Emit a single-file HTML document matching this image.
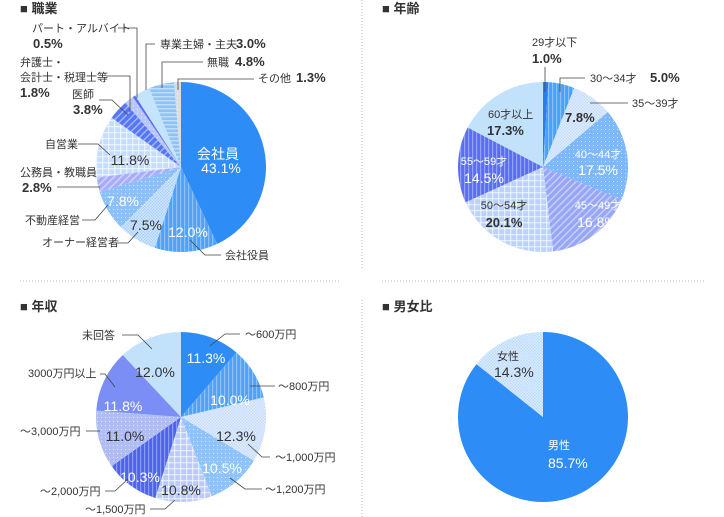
<!DOCTYPE html>
<html><head><meta charset="utf-8"><style>
html,body{margin:0;padding:0;background:#fff;}
svg{display:block;font-family:"Liberation Sans","Noto Sans CJK JP",sans-serif;}
.t{font-size:11px;fill:#333;}
.p{font-size:14px;fill:#333;}
.b{font-weight:bold;font-size:13px;}
.w{fill:#fff;}
.ttl{font-size:13px;font-weight:bold;fill:#333;}
.ld{stroke:#444;stroke-width:0.8;fill:none;}
</style></head><body>
<svg id="svg" width="724" height="517" viewBox="0 0 724 517">
<defs>
<pattern id="pv" width="4" height="4" patternUnits="userSpaceOnUse"><rect width="4" height="4" fill="none"/><rect x="0" width="1.2" height="4" fill="#fff" fill-opacity="0.35"/></pattern>
<pattern id="ph" width="4" height="4" patternUnits="userSpaceOnUse"><rect y="0" width="4" height="1.5" fill="#fff" fill-opacity="0.45"/></pattern>
<pattern id="pd" width="4" height="4" patternUnits="userSpaceOnUse"><rect x="1" y="1" width="1" height="1" fill="#fff" fill-opacity="0.6"/></pattern>
<pattern id="pg" width="6" height="6" patternUnits="userSpaceOnUse"><rect width="6" height="1.3" fill="#fff" fill-opacity="0.6"/><rect width="1.3" height="6" fill="#fff" fill-opacity="0.6"/></pattern>
<pattern id="pdi" width="5" height="5" patternUnits="userSpaceOnUse" patternTransform="rotate(45)"><rect width="1.5" height="5" fill="#fff" fill-opacity="0.45"/></pattern>
<pattern id="pc" width="3" height="3" patternUnits="userSpaceOnUse"><rect width="1.5" height="1.5" fill="#fff" fill-opacity="0.5"/><rect x="1.5" y="1.5" width="1.5" height="1.5" fill="#fff" fill-opacity="0.5"/></pattern>
</defs>
<g stroke="#bbb" stroke-dasharray="1,2" stroke-width="1">
<line x1="362" y1="0" x2="362" y2="270"/><line x1="362" y1="300" x2="362" y2="517"/>
<line x1="20" y1="281" x2="340" y2="281"/><line x1="382" y1="281" x2="705" y2="281"/>
</g>
<g>
<text class="ttl" x="20" y="13">■ 職業</text>
<text class="ttl" x="382" y="13">■ 年齢</text>
<text class="ttl" x="20" y="311">■ 年収</text>
<text class="ttl" x="382" y="311">■ 男女比</text>
</g>
<g id="pies"></g>
<g>
<!-- chart1 -->
<text class="t" x="32" y="32">パート・アルバイト</text><text class="p b" x="33" y="48">0.5%</text>
<polyline class="ld" points="118,28 137,28 137,98"/>
<text class="t" x="160" y="48">専業主婦・主夫</text><text class="p b" x="236" y="48">3.0%</text>
<polyline class="ld" points="155,44 146,44 146,90"/>
<text class="t" x="207" y="66">無職</text><text class="p b" x="235" y="66">4.8%</text>
<polyline class="ld" points="203,62 162,62 162,88"/>
<text class="t" x="258" y="82">その他</text><text class="p b" x="296" y="82">1.3%</text>
<polyline class="ld" points="254,79 178,79 178,90"/>
<text class="t" x="20" y="66">弁護士・</text><text class="t" x="20" y="81">会計士・税理士等</text><text class="p b" x="20" y="97">1.8%</text>
<polyline class="ld" points="106,76 130,76 130,112"/>
<text class="t" x="72" y="98">医師</text><text class="p b" x="73" y="114">3.8%</text>
<polyline class="ld" points="99,100 112,100 128,115"/>
<text class="t" x="45" y="148">自営業</text>
<polyline class="ld" points="78,144 98,144 110,155"/>
<text class="t" x="20" y="176">公務員・教職員</text><text class="p b" x="22" y="192">2.8%</text>
<polyline class="ld" points="57,187 100,187"/>
<text class="t" x="25" y="224">不動産経営</text>
<polyline class="ld" points="82,220 95,220 108,205"/>
<text class="t" x="42" y="246">オーナー経営者</text>
<polyline class="ld" points="117,243 128,243 138,232"/>
<text class="t" x="225" y="259">会社役員</text>
<polyline class="ld" points="221,255 205,255 190,240"/>
<text class="p w" x="218" y="159" text-anchor="middle">会社員</text>
<text class="p w" x="221" y="173" text-anchor="middle">43.1%</text>
<text class="p w" x="188" y="237" text-anchor="middle">12.0%</text>
<text class="p" x="146" y="230" text-anchor="middle">7.5%</text>
<text class="p w" x="123" y="206" text-anchor="middle">7.8%</text>
<text class="p" x="130" y="165" text-anchor="middle">11.8%</text>
<!-- chart2 -->
<text class="t" x="532" y="46">29才以下</text><text class="p b" x="532" y="63">1.0%</text>
<line class="ld" x1="545" y1="67" x2="545" y2="92"/>
<text class="t" x="590" y="82">30〜34才</text><text class="p b" x="650" y="82">5.0%</text>
<polyline class="ld" points="585,78 560,78 560,92"/>
<text class="t" x="632" y="107">35〜39才</text>
<polyline class="ld" points="628,103 590,103"/>
<text class="p b" x="565" y="122">7.8%</text>
<text class="t w" x="598" y="158" text-anchor="middle">40〜44才</text><text class="p w" x="598" y="175" text-anchor="middle">17.5%</text>
<text class="t w" x="598" y="209" text-anchor="middle">45〜49才</text><text class="p w" x="597" y="227" text-anchor="middle">16.8%</text>
<text class="t" x="504" y="209" text-anchor="middle">50〜54才</text><text class="p b" x="504" y="227" text-anchor="middle">20.1%</text>
<text class="t w" x="484" y="165" text-anchor="middle">55〜59才</text><text class="p w" x="484" y="183" text-anchor="middle">14.5%</text>
<text class="t" x="488" y="118">60才以上</text><text class="p b" x="487" y="135">17.3%</text>
<!-- chart3 -->
<text class="p w" x="206" y="363" text-anchor="middle">11.3%</text>
<text class="p w" x="230" y="405" text-anchor="middle">10.0%</text>
<text class="p" x="236" y="441" text-anchor="middle">12.3%</text>
<text class="p w" x="222" y="473" text-anchor="middle">10.5%</text>
<text class="p" x="181" y="495" text-anchor="middle">10.8%</text>
<text class="p w" x="140" y="482" text-anchor="middle">10.3%</text>
<text class="p" x="125" y="441" text-anchor="middle">11.0%</text>
<text class="p w" x="123" y="411" text-anchor="middle">11.8%</text>
<text class="p" x="155" y="377" text-anchor="middle">12.0%</text>
<text class="t" x="245" y="338">〜600万円</text><polyline class="ld" points="240,334 225,334 210,346"/>
<text class="t" x="278" y="390">〜800万円</text><polyline class="ld" points="275,386 250,386"/>
<text class="t" x="275" y="461">〜1,000万円</text><polyline class="ld" points="270,457 262,457 248,444"/>
<text class="t" x="265" y="493">〜1,200万円</text><polyline class="ld" points="262,489 245,489 230,478"/>
<text class="t" x="85" y="513">〜1,500万円</text><polyline class="ld" points="150,509 165,509 175,500"/>
<text class="t" x="40" y="495">〜2,000万円</text><polyline class="ld" points="105,491 115,491 128,479"/>
<text class="t" x="20" y="435">〜3,000万円</text><polyline class="ld" points="86,431 100,431"/>
<text class="t" x="28" y="377">3000万円以上</text><polyline class="ld" points="100,374 105,374 115,387"/>
<text class="t" x="82" y="339">未回答</text><polyline class="ld" points="122,335 138,335 152,349"/>
<!-- chart4 -->
<text class="t" x="497" y="360">女性</text><text class="p" x="494" y="377">14.3%</text>
<text class="t w" x="548" y="449">男性</text><text class="p w" x="548" y="468">85.7%</text>
</g>
</svg>
<script>
const occLabels=["会社員","会社役員","オーナー経営者","不動産経営","公務員・教職員","自営業","医師","弁護士・会計士・税理士等","パート・アルバイト","専業主婦・主夫","無職","その他"];
const occValues=[43.1,12.0,7.5,7.8,2.8,11.8,3.8,1.8,0.5,3.0,4.8,1.3];
const ageLabels=["29才以下","30〜34才","35〜39才","40〜44才","45〜49才","50〜54才","55〜59才","60才以上"];
const ageValues=[1.0,5.0,7.8,17.5,16.8,20.1,14.5,17.3];
const incLabels=["〜600万円","〜800万円","〜1,000万円","〜1,200万円","〜1,500万円","〜2,000万円","〜3,000万円","3000万円以上","未回答"];
const incValues=[11.3,10.0,12.3,10.5,10.8,10.3,11.0,11.8,12.0];
const genLabels=["男性","女性"];
const genValues=[85.7,14.3];
const occStyle=[["#2e8cf7",""],["#4ea2fa","pv"],["#a9d0fd","pc"],["#8cc0fb","pd"],["#a7adf8","pdi"],["#c6dcfc","pg"],["#5577f5","pdi"],["#b8c6f8","pd"],["#5c6ff2",""],["#c4e4fc",""],["#8cc3f8","ph"],["#dddddd","pd"]];
const ageStyle=[["#2a7ef0",""],["#4aa0fa","pv"],["#c2dcfc","pc"],["#7cb8fb","pd"],["#97a6f6","pdi"],["#bcd2fb","pg"],["#5a6ef5","pv"],["#c2e2fc",""]];
const incStyle=[["#2e8cf7",""],["#4ea2fa","pv"],["#c4dbfb","pc"],["#8ec4fb","pd"],["#bccafa","pg"],["#4d64f0","pv"],["#b0bdf4","pd"],["#7b8ef5",""],["#c2e2fc",""]];
const genStyle=[["#2e8cf7",""],["#bcdafc","pc"]];
const NS="http://www.w3.org/2000/svg";
const root=document.getElementById("pies");
function angleScale(v,total){return v/total*Math.PI*2;}
function pt(cx,cy,r,a){return [cx+r*Math.sin(a),cy-r*Math.cos(a)];}
function pie(values,labels,styles,cx,cy,r,name){
  const g=document.createElementNS(NS,"g");
  
  
  root.appendChild(g);
  const total=values.reduce((a,b)=>a+b,0);
  let a0=0;
  values.forEach((v,i)=>{
    const a1=a0+angleScale(v,total);
    const p0=pt(cx,cy,r,a0),p1=pt(cx,cy,r,a1);
    const large=(a1-a0)>Math.PI?1:0;
    const d=`M${cx},${cy}L${p0[0]},${p0[1]}A${r},${r} 0 ${large} 1 ${p1[0]},${p1[1]}Z`;
    ["c","p"].forEach(k=>{
      if(k==="p"&&!styles[i][1])return;
      const path=document.createElementNS(NS,"path");
      
      
      path.setAttribute("d",d);
      path.setAttribute("fill",k==="c"?styles[i][0]:"url(#"+styles[i][1]+")");
      g.appendChild(path);
    });
    a0=a1;
  });
}
pie(occValues,occLabels,occStyle,181,167,85,"pie-occupation");
pie(ageValues,ageLabels,ageStyle,543,167,85,"pie-age");
pie(incValues,incLabels,incStyle,181,417,85,"pie-income");
pie(genValues,genLabels,genStyle,543,417,85,"pie-gender");
</script>
</body></html>
